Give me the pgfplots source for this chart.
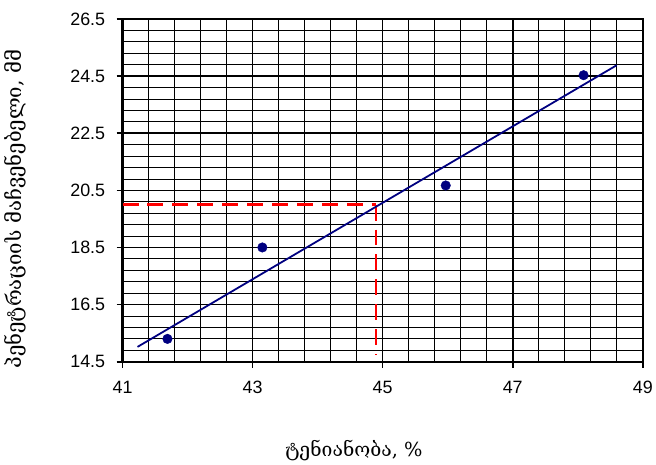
\documentclass[border=0pt]{standalone}
\usepackage{pgfplots}
\pgfplotsset{compat=1.18}
\usepackage{fontspec}
\setmainfont{Liberation Sans}
\newfontfamily\geofont[Script=Georgian]{DejaVu Serif}
\definecolor{fitblue}{RGB}{0,0,128}

\begin{document}
\begin{tikzpicture}
\begin{axis}[
  at={(0,0)}, anchor=south west,
  scale only axis,
  width=522bp, height=344bp,
  xmin=41, xmax=49, ymin=14.5, ymax=26.5,
  xtick={41,43,45,47,49},
  ytick={14.5,16.5,18.5,20.5,22.5,24.5,26.5},
  xticklabels={41,43,45,47,49},
  yticklabels={14.5,16.5,18.5,20.5,22.5,24.5,26.5},
  minor xtick={41.4,41.8,42.2,42.6,43.4,43.8,44.2,44.6,45.4,45.8,46.2,46.6,47.4,47.8,48.2,48.6},
  minor ytick={14.9,15.3,15.7,16.1,16.9,17.3,17.7,18.1,18.9,19.3,19.7,20.1,20.9,21.3,21.7,22.1,22.9,23.3,23.7,24.1,24.9,25.3,25.7,26.1},
  grid=both,
  major grid style={black, line width=1.6bp},
  minor grid style={black, line width=0.8bp},
  axis line style={black, line width=2.4bp},
  tick align=outside,
  major tick length=6bp,
  minor tick length=0pt,
  tick style={black, line width=1.6bp},
  xtick pos=left, ytick pos=left,
  every tick label/.append style={font=\fontsize{18}{20}\selectfont},
  xticklabel style={yshift=-10bp},
  yticklabel style={xshift=-8bp},
  clip=false,
]
% reading of the fitted line at y = 20
\addplot[red, line width=2.4bp, dash pattern=on 16bp off 9bp]
  coordinates {(41,20.0) (44.9,20.0)};
\addplot[red, line width=2.4bp, dash pattern=on 16bp off 9bp]
  coordinates {(44.9,20.0) (44.9,14.75)};
% linear fit
\addplot[fitblue, line width=1.8bp]
  coordinates {(41.23,15.02) (48.60,24.88)};
% measurements
\addplot[only marks, mark=*, mark size=4.8bp, mark options={fill=fitblue, draw=fitblue}]
  coordinates {(41.69,15.3) (43.15,18.5) (45.97,20.67) (48.09,24.53)};
\end{axis}
\node[font=\geofont\fontsize{19.5}{22}\selectfont] at (232bp,-89bp) {ტენიანობა, \%};
\node[font=\geofont\fontsize{20.5}{22}\selectfont, rotate=90] at (-108bp,153bp) {პენეტრაციის მაჩვენებელი, მმ};
\path[use as bounding box] (-123bp,-103bp) rectangle (533bp,363bp);
\end{tikzpicture}
\end{document}
